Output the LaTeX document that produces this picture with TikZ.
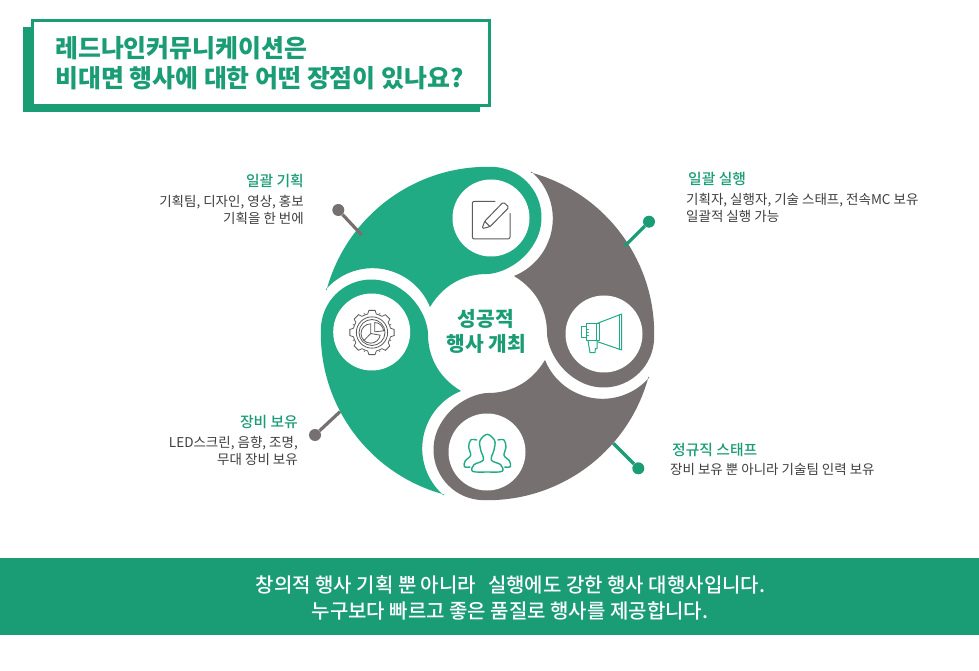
\documentclass[tikz,border=0pt]{standalone}
\usepackage{fontspec}
\setmainfont{Noto Sans CJK KR}
\newfontface\medfont{Noto Sans CJK KR Medium}
\definecolor{pie}{HTML}{21AB84}
\definecolor{deep}{HTML}{1A9C75}
\definecolor{stone}{HTML}{767070}
\definecolor{ink}{HTML}{404040}
\definecolor{sketch}{HTML}{5C5C5C}
\tikzset{
  x=1pt,y=1pt,
  head/.style={inner sep=0pt,font=\fontsize{14.8}{14.8}\selectfont\medfont,text=deep},
  body/.style={inner sep=0pt,font=\fontsize{13.5}{16.5}\selectfont,text=ink},
  disc/.style={fill=white,draw=none},
  lead/.style={line width=3.2pt},
  ball/.style={circle,inner sep=0pt,minimum size=12pt,fill=#1},
  glyph/.style={draw=#1,line width=1pt,line join=round,line cap=round,fill=none},
}
% #1 rotation, #2 colour
\newcommand{\petal}[2]{%
  \fill[#2,shift={(487.5,336.5)},rotate=#1]
    (165:166.7) arc[start angle=165,end angle=88.8,radius=166.7]
    arc[start angle=90,end angle=-30,radius=50.5]
    .. controls (35,69) and (12,59.5) .. (-0.8,59.5)
    .. controls (-20,59.5) and (-42.5,51.5) .. (-57.5,26.5)
    arc[start angle=22,end angle=139,radius=62]
    -- cycle;}
\begin{document}
\begin{tikzpicture}
\useasboundingbox (0,0) rectangle (979,670);
\fill[white] (0,0) rectangle (979,670);
% title
\fill[deep] (23.3,558.3) rectangle (480,642.7);
\path[draw=deep,fill=white,line width=2.8pt] (32.4,649.3) rectangle (489.3,564.3);
\node[anchor=west,inner sep=0pt,text=deep,font=\fontsize{24.9}{24.9}\selectfont\bfseries] (t1) at (55,622) {레드나인커뮤니케이션은};
\node[anchor=west,inner sep=0pt,text=deep,font=\fontsize{24.9}{24.9}\selectfont\bfseries] (t2) at (55,592) {비대면 행사에 대한 어떤 장점이 있나요?};
% petals
\petal{0}{pie}
\petal{90}{pie}
\petal{180}{stone}
\petal{270}{stone}
% leaders
\node[ball=stone] (b1) at (338.3,460) {};
\coordinate (e1) at (361.7,435);
\draw[stone,lead] (b1) -- (e1);
\node[ball=deep] (b2) at (649,448.3) {};
\coordinate (e2) at (625,424);
\draw[deep,lead] (b2) -- (e2);
\node[ball=stone] (b3) at (315,235) {};
\coordinate (e3) at (340,258.3);
\draw[stone,lead] (b3) -- (e3);
\node[ball=deep] (b4) at (638.3,201.7) {};
\coordinate (e4) at (613.3,226.7);
\draw[deep,lead] (b4) -- (e4);
% discs
\fill[disc] (491,452) circle (38.5);
\fill[disc] (371.7,338) circle (38.5);
\fill[disc] (487,218) circle (38.5);
\fill[disc] (604,336) circle (38.5);
% pencil icon
\begin{scope}[shift={(440,490)},xscale=1/3,yscale=-1/3]
  \draw[glyph=sketch,rounded corners=2pt] (165,64) -- (97,64) -- (97,177) -- (210,177) -- (210,100);
  \draw[glyph=sketch,rounded corners=1.5pt] (126,146) -- (134,124) -- (190,66) -- (207,82) -- (150,140) -- cycle;
  \draw[glyph=sketch] (134,124) -- (150,140);
\end{scope}
% gear icon
\begin{scope}[shift={(372,337.5)},scale=1/3]
  \foreach \a in {0,45,...,315}{
    \draw[glyph=sketch,line width=.8pt] (\a-8:67) -- (\a+8:67) -- (\a+13:57)
       arc[start angle=\a+13,end angle=\a+32,radius=57] -- (\a+37:67);
    \fill[sketch] (\a+22.5:61) circle (2);
  }
  \draw[glyph=sketch,line width=.8pt] (0,0) circle (47);
  \draw[glyph=sketch,line width=.8pt] (0,0) circle (39);
  \draw[glyph=sketch,line width=.8pt] (-4,-3) -- (-4,26) arc[start angle=90,end angle=350,radius=29] -- cycle;
  \draw[glyph=sketch,line width=.8pt] (-4,-3) -- (-24,-24);
  \draw[glyph=sketch,line width=.8pt] (8,2) -- (8,30) .. controls (22,30) and (33,19) .. (35,5) -- cycle;
\end{scope}
% megaphone icon
\begin{scope}[shift={(560,370)},xscale=1/3,yscale=-1/3]
  \draw[glyph=pie] (112,70) -- (185,42) -- (185,150) -- (112,125);
  \draw[glyph=pie] (178,46) -- (178,147);
  \draw[glyph=pie] (79,72) rectangle (118,122);
  \draw[glyph=pie] (110,72) -- (110,122);
  \draw[glyph=pie] (79,79) -- (64,79) -- (64,112) -- (79,112);
  \draw[glyph=pie] (79,88) -- (85,88) (79,97) -- (85,97) (79,106) -- (85,106);
  \draw[glyph=pie] (84,122) -- (90,158) -- (105,158) -- (106,146) -- (111,146) -- (111,125);
\end{scope}
% people icon
\begin{scope}[shift={(450,250)},xscale=1/3,yscale=-1/3]
  \draw[glyph=pie,line width=1.4pt,smooth cycle,tension=.6] plot coordinates {(68,154) (72,134) (100,120) (92,90) (90,62) (112,43) (134,62) (132,90) (124,120) (152,134) (156,154) (112,156)};
  \draw[glyph=pie,line width=1.4pt,smooth,tension=.6] plot coordinates {(80,60) (62,60) (56,82) (62,106) (46,122) (43,140) (60,141)};
  \draw[glyph=pie,line width=1.4pt,smooth,tension=.6] plot coordinates {(144,60) (162,60) (168,82) (162,106) (178,122) (181,140) (164,141)};
\end{scope}
\node[inner sep=0pt,align=center,text=deep,font=\fontsize{20.3}{25}\selectfont\bfseries] (c) at (486,338.5) {성공적\\행사 개최};
% labels
\node[head,anchor=east] (a1) at (304,489.5) {일괄 기획};
\node[body,anchor=north east,align=right] (a2) at (304,475) {기획팀, 디자인, 영상, 홍보\\기획을 한 번에};
\node[head,anchor=west] (b1) at (688,491.5) {일괄 실행};
\node[body,anchor=north west,align=left] (b2) at (686,476.5) {기획자, 실행자, 기술 스태프, 전속MC 보유\\일괄적 실행 가능};
\node[head,anchor=east] (c1) at (298,248) {장비 보유};
\node[body,anchor=north east,align=right] (c2) at (298,233.5) {LED스크린, 음향, 조명,\\무대 장비 보유};
\node[head,anchor=west] (d1) at (672,220.5) {정규직 스태프};
\node[body,anchor=north west,align=left] (d2) at (670,206.5) {장비 보유 뿐 아니라 기술팀 인력 보유};
% footer
\fill[deep] (0,35) rectangle (979,112);
\node[inner sep=0pt,text=white,font=\fontsize{20}{20}\selectfont\medfont] (f1) at (510.5,85) {창의적 행사 기획 뿐 아니라\hspace{.6em}실행에도 강한 행사 대행사입니다.};
\node[inner sep=0pt,text=white,font=\fontsize{20}{20}\selectfont\medfont] (f2) at (510,59) {누구보다 빠르고 좋은 품질로 행사를 제공합니다.};
\end{tikzpicture}
\end{document}
